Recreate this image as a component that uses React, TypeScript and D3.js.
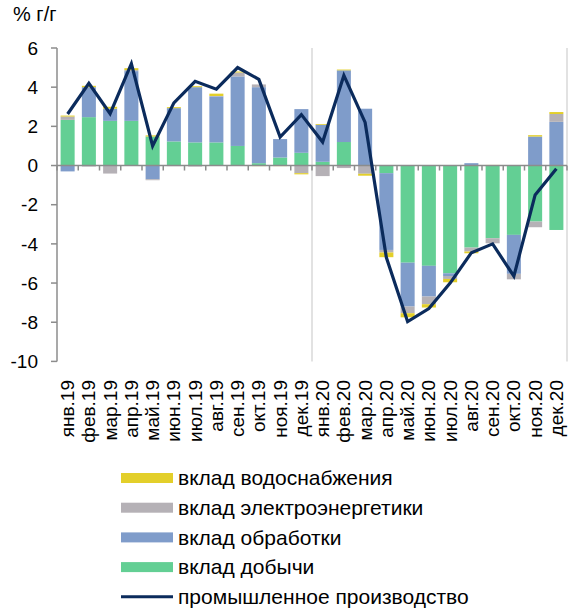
import React from "react";
import * as d3 from "d3";

const months = [
  "янв.19","фев.19","мар.19","апр.19","май.19","июн.19","июл.19","авг.19","сен.19","окт.19","ноя.19","дек.19",
  "янв.20","фев.20","мар.20","апр.20","май.20","июн.20","июл.20","авг.20","сен.20","окт.20","ноя.20","дек.20",
];
const mining = [2.33,2.47,2.28,2.28,1.48,1.23,1.18,1.18,1.0,0.12,0.41,0.65,0.19,1.2,0,-0.39,-4.96,-5.12,-5.5,-4.19,-3.71,-3.54,-2.86,-3.29];
const manufacturing = [-0.3,1.53,0.62,2.54,-0.7,1.7,2.82,2.35,3.55,3.88,0.94,2.23,1.89,3.66,2.9,-3.92,-2.24,-1.57,-0.14,0.12,0,-1.99,1.48,2.23];
const electricity = [0.17,-0.05,-0.41,0.05,-0.05,-0.03,-0.05,0.02,0.2,0.14,0,-0.39,-0.54,-0.13,-0.42,-0.13,-0.34,-0.39,-0.15,-0.2,-0.26,-0.28,-0.29,0.4];
const water = [0.05,0.07,0.1,0.1,0.06,0.05,0.05,0.12,0.05,-0.03,-0.03,-0.06,0.04,0.04,-0.1,-0.24,-0.21,-0.17,-0.17,-0.09,0.03,0,0.07,0.1];
const industry = [2.63,4.2,2.65,5.2,1.0,3.2,4.3,3.9,5.0,4.4,1.45,2.6,1.2,4.6,2.2,-4.7,-7.97,-7.3,-6.0,-4.45,-4.0,-5.65,-1.5,-0.17];
const yTicks = [6,4,2,0,-2,-4,-6,-8,-10];

const seriesKeys = ["mining","manufacturing","electricity","water"];
const seriesColors: Record<string,string> = {
  mining: "#63cf94",
  manufacturing: "#7f9cca",
  electricity: "#b5b1b6",
  water: "#e3cf2a",
};
const legendItems = [
  { label: "вклад водоснабжения", color: seriesColors.water, type: "rect" },
  { label: "вклад электроэнергетики", color: seriesColors.electricity, type: "rect" },
  { label: "вклад обработки", color: seriesColors.manufacturing, type: "rect" },
  { label: "вклад добычи", color: seriesColors.mining, type: "rect" },
  { label: "промышленное производство", color: "#0b2b5c", type: "line" },
];

export default function App() {
  const W = 571, H = 613;
  const left = 57, right = 567;
  const top = 48, bottom = 361.4;
  const font = "'Liberation Sans', Arial, sans-serif";

  const x = d3.scaleBand<string>().domain(months).range([left, right]).paddingInner(0.34).paddingOuter(0.17);
  const y = d3.scaleLinear().domain([-10, 6]).range([bottom, top]);
  const step = x.step();

  const rows = months.map((m, i) => ({
    month: m,
    mining: mining[i],
    manufacturing: manufacturing[i],
    electricity: electricity[i],
    water: water[i],
  }));
  const stack = d3.stack<any>().keys(seriesKeys).offset(d3.stackOffsetDiverging);
  const stacked = stack(rows);

  const line = d3.line<number>()
    .x((_, i) => (x(months[i]) as number) + x.bandwidth() / 2)
    .y((d) => y(d));

  const boundaries = d3.range(months.length + 1).map((i) => left + i * step);

  return (
    <svg width={W} height={H} style={{ position: "absolute", left: 0, top: 0, background: "#fff" }} fontFamily={font}>
      <text x={13} y={21} fontSize={20} fill="#000">% г/г</text>
      {/* separators */}
      <line x1={left + 12 * step} x2={left + 12 * step} y1={top} y2={bottom} stroke="#d9d9d9" strokeWidth={1.5} />
      <line x1={right} x2={right} y1={top} y2={bottom} stroke="#d9d9d9" strokeWidth={1.5} />
      {/* bars */}
      {stacked.map((s) => (
        <g key={s.key} fill={seriesColors[s.key]}>
          {s.map((d, i) => {
            const y0 = y(d[0]), y1 = y(d[1]);
            const h = Math.abs(y0 - y1);
            if (h < 0.01) return null;
            return <rect key={i} x={x(months[i])} width={x.bandwidth()} y={Math.min(y0, y1)} height={h} />;
          })}
        </g>
      ))}
      {/* y axis */}
      <line x1={left} x2={left} y1={top} y2={bottom} stroke="#8c8c8c" strokeWidth={1.5} />
      {yTicks.map((t) => (
        <g key={t}>
          <line x1={left - 6} x2={left} y1={y(t)} y2={y(t)} stroke="#8c8c8c" strokeWidth={1.5} />
          <text x={38} y={y(t)} dy="0.35em" textAnchor="end" fontSize={19} fill="#000">{t}</text>
        </g>
      ))}
      {/* x axis at zero */}
      <line x1={left} x2={right} y1={y(0)} y2={y(0)} stroke="#8c8c8c" strokeWidth={1.5} />
      {boundaries.map((bx, i) => (
        <line key={i} x1={bx} x2={bx} y1={y(0)} y2={y(0) + 5} stroke="#8c8c8c" strokeWidth={1.5} />
      ))}
      {/* industry line */}
      <path d={line(industry) || ""} fill="none" stroke="#0b2b5c" strokeWidth={3.2} strokeLinejoin="miter" />
      {/* x labels */}
      {months.map((m) => {
        const cx = (x(m) as number) + x.bandwidth() / 2;
        return (
          <text key={m} transform={`translate(${cx + 6.5},380) rotate(-90)`} textAnchor="end" fontSize={19} fill="#000">{m}</text>
        );
      })}
      {/* legend */}
      {legendItems.map((it, i) => {
        const cy = 478 + i * 29.7;
        return (
          <g key={it.label}>
            {it.type === "rect" ? (
              <rect x={121} y={cy - 5} width={52} height={10} fill={it.color} />
            ) : (
              <line x1={121} x2={173} y1={cy} y2={cy} stroke={it.color} strokeWidth={3} />
            )}
            <text x={178} y={cy} dy="0.35em" fontSize={21} fill="#000">{it.label}</text>
          </g>
        );
      })}
    </svg>
  );
}
